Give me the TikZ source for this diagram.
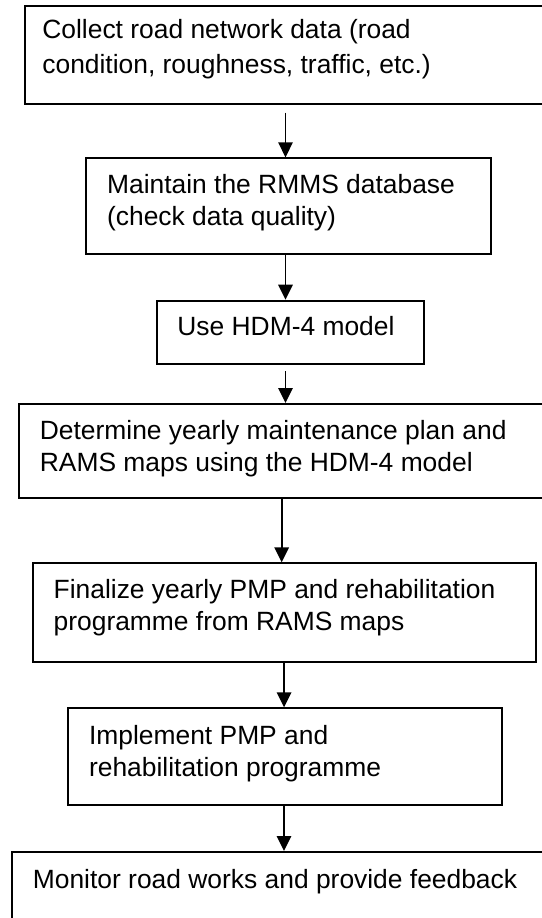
\documentclass[tikz,border=0pt]{standalone}
\usepackage{fontspec}
\setmainfont{Liberation Sans}
\usetikzlibrary{calc,arrows.meta}

\begin{document}
\begin{tikzpicture}[x=0.5pt,y=0.5pt,
	box/.style={draw,line width=1pt,inner sep=0pt},
	txt/.style={anchor=base west,align=left,inner sep=0pt,font=\fontsize{13.2}{16}\selectfont},
	flow/.style={line width=0.8pt,-{Triangle[length=7.5pt,width=7.25pt]}}]
		\clip (0,0) rectangle (542,-918);
		% boxes
		\node (b1) at (292.5,-55) [box,minimum width=267.5pt,minimum height=49pt] {};
		\node (b2) at (288.5,-206.3) [box,minimum width=202.3pt,minimum height=48pt] {};
		\node (b3) at (290.3,-332.5) [box,minimum width=133.8pt,minimum height=31.8pt] {};
		\node (b4) at (289.5,-450.75) [box,minimum width=270.5pt,minimum height=46.75pt] {};
		\node (b5) at (284.3,-612.5) [box,minimum width=251.5pt,minimum height=49.2pt] {};
		\node (b6) at (285.2,-756.65) [box,minimum width=217pt,minimum height=48.35pt] {};
		\node (b7) at (286,-896) [box,minimum width=274pt,minimum height=44pt] {};
		% texts (base = baseline of the last line)
		\node (t1) at ($(b1.north west)+(18,-68.5)$) [txt,font=\fontsize{13.2}{17.5}\selectfont] {Collect road network data (road\\condition, roughness, traffic, etc.)};
		\node (t2) at ($(b2.north west)+(21.5,-68.5)$) [txt] {Maintain the RMMS database\\(check data quality)};
		\node (t3) at ($(b3.north west)+(21.5,-36)$) [txt] {Use HDM-4 model};
		\node (t4) at ($(b4.north west)+(21.5,-68)$) [txt] {Determine yearly maintenance plan and\\RAMS maps using the HDM-4 model};
		\node (t5) at ($(b5.north west)+(21.5,-68)$) [txt] {Finalize yearly PMP and rehabilitation\\programme from RAMS maps};
		\node (t6) at ($(b6.north west)+(21.5,-69)$) [txt] {Implement PMP and\\rehabilitation programme};
		\node (t7) at ($(b7.north west)+(21.5,-37)$) [txt] {Monitor road works and provide feedback};
		% arrows
		\draw[flow] ($(b1.south -| 285.5,0)+(0,-7.7)$) -- (b2.north -| 285.5,0);
		\draw[flow] (b2.south -| 285.5,0) -- (b3.north -| 285.5,0);
		\draw[flow] ($(b3.south -| 285.5,0)+(0,-5.7)$) -- (b4.north -| 285.5,0);
		\draw[flow] (b4.south -| 281.7,0) -- (b5.north -| 281.7,0);
		\draw[flow] (b5.south -| 284.1,0) -- (b6.north -| 284.1,0);
		\draw[flow] (b6.south -| 284,0) -- (b7.north -| 284,0);
\end{tikzpicture}
\end{document}
